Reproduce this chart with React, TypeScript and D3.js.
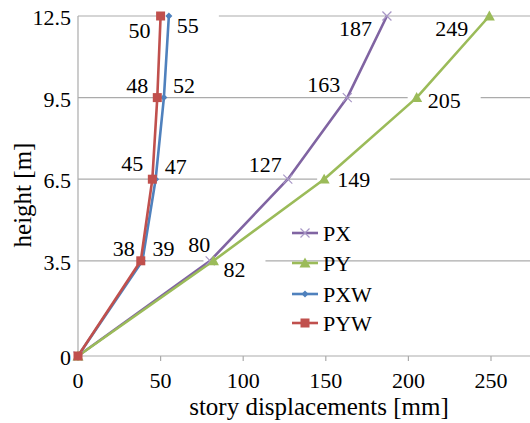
import React from 'react'
import * as d3 from 'd3'

const heights = [0, 3.5, 6.5, 9.5, 12.5]
const yTicks = [0, 3.5, 6.5, 9.5, 12.5]
const xTicks = [0, 50, 100, 150, 200, 250]

const seriesNames = ['PX', 'PY', 'PXW', 'PYW']
const px = [0, 80, 127, 163, 187]
const py = [0, 82, 149, 205, 249]
const pxw = [0, 39, 47, 52, 55]
const pyw = [0, 38, 45, 48, 50]
const seriesValues = [px, py, pxw, pyw]

const colors = ['#8064A2', '#9BBB59', '#4F81BD', '#C0504D']
const markers = ['x', 'triangle', 'diamond', 'square']

// label placement per point (dx, baseline dy, anchor) -- index 0 (origin) not labelled
const labelPos: [number, number, string][][] = [
  [[0, 0, ''], [0, -9, 'end'], [-6, -7, 'end'], [-7, -6, 'end'], [-15, 20, 'end']],
  [[0, 0, ''], [10, 16, 'start'], [13, 8, 'start'], [11, 10, 'start'], [-21, 20, 'end']],
  [[0, 0, ''], [10, -5, 'start'], [9, -5, 'start'], [9, -5, 'start'], [8, 17, 'start']],
  [[0, 0, ''], [-6, -5, 'end'], [-9, -8, 'end'], [-9, -5, 'end'], [-10, 22, 'end']],
]

const W = 530
const H = 423
const font = 'Liberation Serif'

function T(props: any) {
  return <text fontFamily={font} fill="#000" {...props} />
}

function Marker({ type, x, y, color }: { type: string; x: number; y: number; color: string }) {
  if (type === 'x') {
    const s = 4.5
    return (
      <path d={`M${x - s},${y - s}L${x + s},${y + s}M${x - s},${y + s}L${x + s},${y - s}`}
        stroke="#A897C6" strokeWidth={1.2} fill="none" />
    )
  }
  if (type === 'triangle') {
    const s = 5.5
    return <path d={`M${x},${y - s}L${x + s},${y + s * 0.8}L${x - s},${y + s * 0.8}Z`} fill={color} />
  }
  if (type === 'diamond') {
    const s = 3.5
    return <path d={`M${x},${y - s}L${x + s},${y}L${x},${y + s}L${x - s},${y}Z`} fill={color} />
  }
  return <rect x={x - 4.5} y={y - 4.5} width={9} height={9} fill={color} />
}

export default function App() {
  const x = d3.scaleLinear().domain([0, 250]).range([78, 491])
  const y = d3.scaleLinear().domain([0, 12.5]).range([356, 16])
  const right = W

  const line = d3.line<[number, number]>().x(d => x(d[0])).y(d => y(d[1]))

  const labels: { tx: number; ty: number; anchor: string; text: string }[] = []
  seriesValues.forEach((vals, si) => {
    vals.forEach((v, i) => {
      if (i === 0) return
      const [dx, dy, anchor] = labelPos[si][i]
      labels.push({ tx: x(v) + dx, ty: y(heights[i]) + dy, anchor, text: String(v) })
    })
  })
  const charW = 11

  return (
    <svg width={W} height={H}
      style={{ position: 'absolute', left: 0, top: 0, background: '#fff' }}>
      <rect width={W} height={H} fill="#fff" />
      {/* gridlines */}
      {yTicks.filter(t => t > 0).map(t => (
        <line key={t} x1={x(0)} x2={right} y1={y(t)} y2={y(t)} stroke="#ABABAB" strokeWidth={1.2} />
      ))}
      {/* axes */}
      <line x1={x(0)} x2={right} y1={y(0)} y2={y(0)} stroke="#ABABAB" strokeWidth={1.2} />
      <line x1={x(0)} x2={x(0)} y1={y(12.5)} y2={y(0)} stroke="#ABABAB" strokeWidth={1.2} />
      {xTicks.map(t => (
        <g key={t}>
          <line x1={x(t)} x2={x(t)} y1={y(0)} y2={y(0) + 5} stroke="#ABABAB" strokeWidth={1.2} />
          <T x={x(t)} y={388} textAnchor="middle" fontSize={22}>{t}</T>
        </g>
      ))}
      {yTicks.map(t => (
        <T key={t} x={71} y={y(t) + 9} textAnchor="end" fontSize={22}>{t}</T>
      ))}
      {/* label backgrounds */}
      {labels.map((l, i) => {
        const w = l.text.length * charW
        const x0 = l.anchor === 'end' ? l.tx - w : l.tx
        return <rect key={i} x={x0 - 20} y={l.ty - 18} width={w + 40} height={21} fill="#fff" />
      })}
      {/* series */}
      {seriesValues.map((vals, si) => (
        <path key={si} d={line(vals.map((v, i) => [v, heights[i]] as [number, number])) || ''}
          fill="none" stroke={colors[si]} strokeWidth={2.6} strokeLinejoin="round" />
      ))}
      {seriesValues.map((vals, si) => vals.map((v, i) => (
        <Marker key={`${si}-${i}`} type={markers[si]} x={x(v)} y={y(heights[i])} color={colors[si]} />
      )))}
      {labels.map((l, i) => (
        <T key={i} x={l.tx} y={l.ty} textAnchor={l.anchor} fontSize={22}>{l.text}</T>
      ))}
      {/* legend */}
      {seriesNames.map((name, i) => {
        const ly = [233, 263, 294, 323][i]
        return (
          <g key={name}>
            <line x1={292} x2={318} y1={ly} y2={ly} stroke={colors[i]} strokeWidth={2.6} />
            <Marker type={markers[i]} x={305} y={ly} color={colors[i]} />
            <T x={323} y={ly + 8} fontSize={22}>{name}</T>
          </g>
        )
      })}
      {/* axis titles */}
      <T x={319} y={415} textAnchor="middle" fontSize={25}>story displacements [mm]</T>
      <T transform="translate(31,195) rotate(-90)" textAnchor="middle" fontSize={25}>height [m]</T>
    </svg>
  )
}
